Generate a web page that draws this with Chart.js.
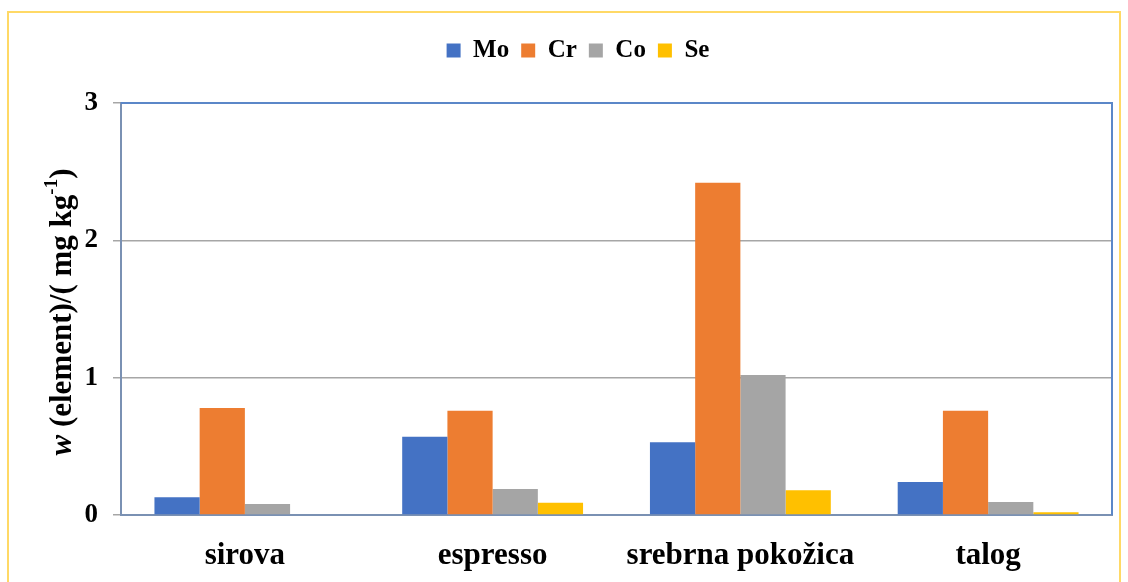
<!DOCTYPE html>
<html>
<head>
<meta charset="utf-8">
<script src="https://cdn.jsdelivr.net/npm/chart.js@4.4.0/dist/chart.umd.min.js"></script>
<style>
  body { margin: 0; background: #fff; }
  #wrap { position: relative; width: 1128px; height: 582px; overflow: hidden; }
  #frame { position: absolute; left: 7px; top: 11px; width: 1114px; height: 600px; border: 2px solid #FFD966; box-sizing: border-box; }
  canvas { position: absolute; left: 0; top: 0; }
</style>
</head>
<body>
<div id="wrap">
  <div id="frame"></div>
  <canvas id="myChart" width="1128" height="582"></canvas>
</div>
<script>
// sample types and element contents (mg/kg)
var categories = ["sirova", "espresso", "srebrna pokožica", "talog"];
var moValues = [0.13, 0.57, 0.53, 0.24];
var crValues = [0.78, 0.76, 2.42, 0.76];
var coValues = [0.08, 0.19, 1.02, 0.095];
var seValues = [0.0, 0.09, 0.18, 0.02];
var yTicks = [0, 1, 2, 3];

var serif = "'Liberation Serif', 'Times New Roman', serif";

// y axis title with italic w and superscript -1
var yTitlePlugin = {
  id: "yTitle",
  afterDraw: function(chart) {
    var ctx = chart.ctx;
    var parts = [
      { t: "w", f: "italic bold 31px " + serif, dy: 0 },
      { t: " (element)/( mg kg", f: "bold 31px " + serif, dy: 0 },
      { t: "-1", f: "bold 19px " + serif, dy: -11 },
      { t: ")", f: "bold 31px " + serif, dy: 0 }
    ];
    var total = 0;
    parts.forEach(function(p) { ctx.font = p.f; p.w = ctx.measureText(p.t).width; total += p.w; });
    ctx.save();
    ctx.translate(61, 312);
    ctx.rotate(-Math.PI / 2);
    ctx.fillStyle = "#000";
    ctx.textBaseline = "middle";
    var x = -total / 2;
    parts.forEach(function(p) {
      ctx.font = p.f;
      ctx.fillText(p.t, x, p.dy + 2);
      x += p.w;
    });
    ctx.restore();
  }
};

// top and right edges of the plot area
var plotFrame = {
  id: "plotFrame",
  afterDatasetsDraw: function(chart) {
    var a = chart.chartArea, ctx = chart.ctx;
    ctx.save();
    ctx.strokeStyle = "#5B87C8";
    ctx.lineWidth = 2;
    ctx.beginPath();
    ctx.moveTo(a.left, a.top);
    ctx.lineTo(a.right, a.top);
    ctx.lineTo(a.right, a.bottom);
    ctx.stroke();
    ctx.restore();
  }
};

new Chart("myChart", {
  type: "bar",
  data: {
    labels: categories,
    datasets: [
      { label: "Mo", data: moValues, backgroundColor: "#4472C4" },
      { label: "Cr", data: crValues, backgroundColor: "#ED7D31" },
      { label: "Co", data: coValues, backgroundColor: "#A5A5A5" },
      { label: "Se", data: seValues, backgroundColor: "#FFC000" }
    ]
  },
  options: {
    responsive: false,
    animation: false,
    layout: { padding: { top: 26, right: 16, left: 44, bottom: 0 } },
    datasets: { bar: { categoryPercentage: 0.73, barPercentage: 1.0 } },
    plugins: {
      tooltip: { enabled: false },
      legend: {
        position: "top",
        labels: {
          boxWidth: 14, boxHeight: 14, padding: 12,
          color: "#000",
          font: { family: serif, size: 25, weight: "bold" }
        }
      },
      // empty spacer between legend and plot
      subtitle: {
        display: true, text: "", position: "top", weight: 500,
        font: { size: 1, lineHeight: 1 },
        padding: { top: 0, bottom: 29 }
      }
    },
    scales: {
      x: {
        grid: { display: false, drawTicks: false },
        border: { display: true, color: "#7A91B3", width: 2 },
        ticks: {
          color: "#000", padding: 22,
          font: { family: serif, size: 31, weight: "bold" }
        },
        afterFit: function(s) { s.height = 67; }
      },
      y: {
        min: 0, max: 3,
        afterBuildTicks: function(s) { s.ticks = yTicks.map(function(v) { return { value: v }; }); },
        grid: { color: "#A6A6A6", lineWidth: 1.5, tickLength: 8, tickColor: "#A6A6A6" },
        border: { display: true, color: "#7A91B3", width: 2 },
        ticks: {
          color: "#000", padding: 15,
          font: { family: serif, size: 27, weight: "bold" }
        },
        afterFit: function(s) { s.width = 77; }
      }
    }
  },
  plugins: [yTitlePlugin, plotFrame]
});
</script>
</body>
</html>
